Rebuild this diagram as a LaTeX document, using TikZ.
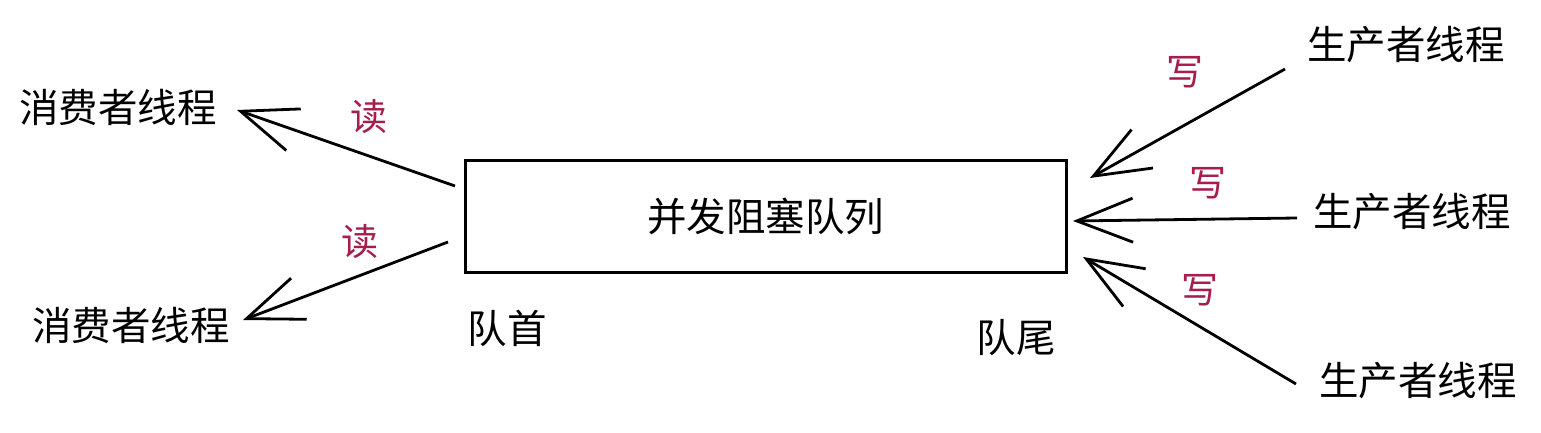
\documentclass[tikz,border=0pt]{standalone}
\usepackage{fontspec}
\setmainfont{Noto Sans CJK SC}
\usetikzlibrary{arrows.meta}
\definecolor{rd}{RGB}{166,30,77}
\tikzset{
  lbl/.style={font=\fontsize{39.5}{42}\selectfont, inner sep=0pt, text=black},
  rw/.style={font=\fontsize{37}{40}\selectfont, inner sep=0pt, text=rd},
  conn/.style={line width=2.8pt, draw=black, -{Straight Barb[length=56pt, width=44pt, line width=2.8pt]}},
  qbox/.style={draw=black, line width=3pt, minimum width=601pt, minimum height=112pt, inner sep=0pt, font=\fontsize{39.5}{42}\selectfont}
}
\begin{document}
\begin{tikzpicture}[x=1pt,y=-1pt]
\useasboundingbox (0,0) rectangle (1541,433);
\node[qbox] (q) at (765.5,216.5) {并发阻塞队列};
\node[lbl] (c1) at (118,107) {消费者线程};
\node[lbl] (c2) at (131,325) {消费者线程};
\node[lbl] (p1) at (1406,45) {生产者线程};
\node[lbl] (p2) at (1412,212) {生产者线程};
\node[lbl] (p3) at (1418,381) {生产者线程};
\node[lbl] (head) at (507,328) {队首};
\node[lbl] (tail) at (1016,338) {队尾};
\node[rw] (r1) at (369,117) {读};
\node[rw] (r2) at (360,242) {读};
\node[rw] (w1) at (1185,72) {写};
\node[rw] (w2) at (1208,183) {写};
\node[rw] (w3) at (1200,290) {写};
\coordinate (a1s) at (455,186);
\coordinate (a1e) at (237,110);
\coordinate (a2s) at (448,242);
\coordinate (a2e) at (243,320);
\coordinate (b1s) at (1285,69);
\coordinate (b1e) at (1090,178);
\coordinate (b2s) at (1297,218);
\coordinate (b2e) at (1073,221);
\coordinate (b3s) at (1296,384);
\coordinate (b3e) at (1083,257);
\draw[conn] (a1s) -- (a1e);
\draw[conn] (a2s) -- (a2e);
\draw[conn] (b1s) -- (b1e);
\draw[conn] (b2s) -- (b2e);
\draw[conn] (b3s) -- (b3e);
\end{tikzpicture}
\end{document}
